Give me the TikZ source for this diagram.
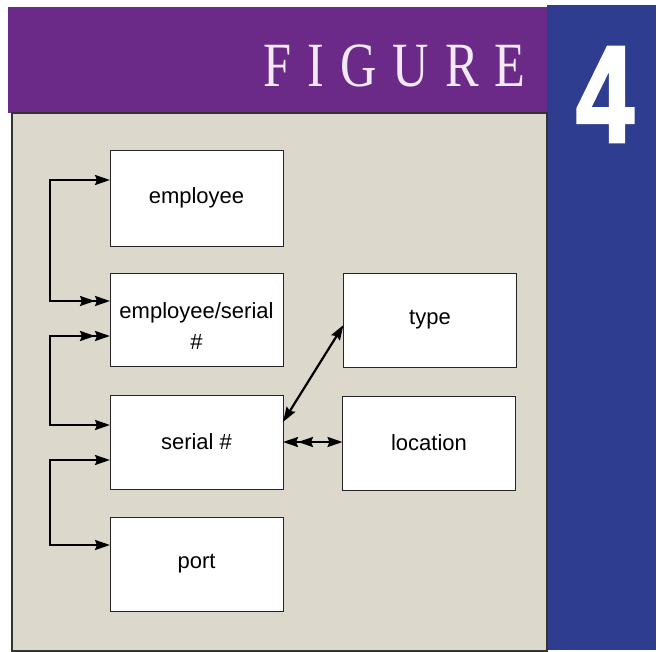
\documentclass[tikz,border=0pt]{standalone}
\usepackage{fontspec}
\usetikzlibrary{arrows.meta,calc}
\newfontfamily\boxfont{Liberation Sans}
\newfontfamily\figfont[FakeStretch=0.8]{Liberation Serif}
\newfontfamily\numfont[FakeStretch=0.75,FakeBold=2]{Liberation Sans Bold}
\definecolor{figpurple}{HTML}{6B2A87}
\definecolor{figblue}{HTML}{2E3D8F}
\definecolor{panelbeige}{HTML}{DCD8CC}
\definecolor{titlewhite}{HTML}{F1E9F3}
\tikzset{
  bigtip/.tip={Stealth[length=15pt,width=10pt,inset=2pt]},
  twotip/.tip={Stealth[length=15pt,width=10pt,inset=2pt]Stealth[length=15pt,width=10pt,inset=2pt]}
}
\begin{document}
\begin{tikzpicture}[x=1pt,y=-1pt,
  entity/.style={draw=black!85, line width=0.9pt, fill=white,
    minimum width=173pt, minimum height=94pt, inner sep=0pt, outer sep=0pt,
    font=\boxfont\fontsize{22}{30}\selectfont, align=center},
  entitytext/.style={font=\boxfont\fontsize{22}{31}\selectfont, align=center, inner sep=0pt},
  conn/.style={line width=2.2pt, draw=black},
  onetoone/.style={bigtip-bigtip},
  onetomany/.style={bigtip-twotip},
  manytoone/.style={twotip-bigtip},
  panel/.style={fill=panelbeige, draw=black!80, line width=1.1pt},
]
\useasboundingbox (0,0) rectangle (663,652);
% backgrounds
\fill[figblue] (547,5) rectangle (656,650);
\fill[figpurple] (8,7) rectangle (547,113);
\draw[panel] (12,113) rectangle (547,651);
% titles
\node[anchor=base east, inner sep=0pt, text=titlewhite, font=\figfont\fontsize{63}{63}\selectfont] (title) at (526,87)
  {F\kern16pt I\kern16pt G\kern16pt U\kern16pt R\kern16pt E};
\node[anchor=base, inner sep=0pt, text=white, font=\numfont\fontsize{138}{138}\selectfont] (num) at (605,142) {4};
% entities
\node[entity, minimum height=96pt] (employee) at (196.5,198) {employee};
\node[entity, minimum height=93pt] (empserial) at (196.5,319.5) {};
\node[entitytext] (empserialtext) at (196.5,326) {employee/serial\\\#};
\node[entity] (serial) at (196.5,442) {serial \#};
\node[entity] (port) at (196.5,564) {port};
\node[entity] (type) at (430,320) {type};
\node[entity] (location) at (429,443) {location};
% connectors
\draw[conn,onetomany] ($(employee.west)+(0,-18)$) -- ++(-60,0) |- ($(empserial.west)+(0,-18.5)$);
\draw[conn,manytoone] ($(empserial.west)+(0,16.5)$) -- ++(-60,0) |- ($(serial.west)+(0,-17)$);
\draw[conn,onetoone] ($(serial.west)+(0,18)$) -- ++(-60,0) |- ($(port.west)+(0,-19)$);
\draw[conn,onetoone] ($(serial.east)+(0,-20)$) -- ($(type.west)+(0,5)$);
\draw[conn,manytoone] (serial.east) -- (serial.east -| location.west);
\end{tikzpicture}
\end{document}
